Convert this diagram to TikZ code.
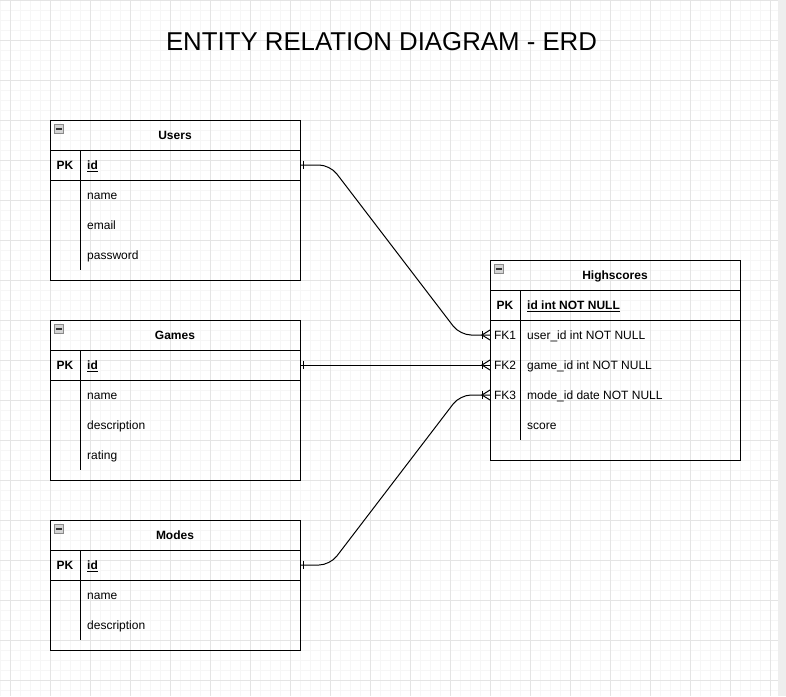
\documentclass[tikz,border=0pt]{standalone}
\usepackage{fontspec}
\setmainfont{Liberation Sans}
\usetikzlibrary{calc}
\definecolor{gmin}{HTML}{F6F6F6}
\definecolor{gmaj}{HTML}{E4E4E4}
\definecolor{strip}{HTML}{EEEEEE}
\definecolor{mbfill}{HTML}{D4D4D4}
\definecolor{mbdraw}{HTML}{8A8A8A}
\tikzset{
  gridminor/.style={draw=gmin, line width=1pt},
  gridmajor/.style={draw=gmaj, line width=1pt},
  tbl/.style={draw=black, line width=1pt, anchor=north west, inner sep=0pt},
  sepline/.style={draw=black, line width=1pt},
  fld/.style={anchor=base west, inner sep=0pt, font=\fontsize{12}{14}\selectfont},
  keyfld/.style={anchor=base west, inner sep=0pt, font=\fontsize{12}{14}\selectfont\bfseries},
  keycol/.style={anchor=base, inner sep=0pt, font=\fontsize{12}{14}\selectfont},
  pkcol/.style={anchor=base, inner sep=0pt, font=\fontsize{12}{14}\selectfont\bfseries},
  hdr/.style={anchor=base, inner sep=0pt, font=\fontsize{12}{14}\selectfont\bfseries},
  minusbox/.style={draw=mbdraw, fill=mbfill, line width=0.8pt, minimum size=9.5pt, inner sep=0pt,
    path picture={\draw[black!80, line width=1.3pt] ([xshift=2pt]path picture bounding box.west) -- ([xshift=-2pt]path picture bounding box.east);}},
  conn/.style={draw=black, line width=1pt, rounded corners=11pt},
  mk/.style={draw=black, line width=1pt},
}
\newcommand\eronemark[1]{\draw[mk] ($(#1)+(3.5,-4)$) -- ++(0,8);}
\newcommand\ermanymark[1]{\draw[mk] ($(#1)+(-8,-4)$) -- ++(0,8);
  \draw[mk] ($(#1)+(0,-5)$) -- ($(#1)+(-8,0)$) -- ($(#1)+(0,5)$);}
\begin{document}
\begin{tikzpicture}[x=1pt,y=-1pt]
\useasboundingbox (0,0) rectangle (786,696);
\fill[white] (0,0) rectangle (786,696);
% grid
\foreach \x in {0,10,...,770} \draw[gridminor] (\x,0) -- (\x,696);
\foreach \y in {10,20,...,690} \draw[gridminor] (0,\y) -- (778,\y);
\foreach \x in {10,50,...,770} \draw[gridmajor] (\x,0) -- (\x,696);
\foreach \y in {0,40,...,680} \draw[gridmajor] (0,\y) -- (778,\y);
\fill[strip] (778,0) rectangle (786,696);

% title
\node[inner sep=0pt, font=\fontsize{25.8}{30}\selectfont] (title) at (381.5,42) {ENTITY RELATION DIAGRAM - ERD};

% ===== Users =====
\node[tbl, minimum width=250pt, minimum height=160pt] (users) at (50,120) {};
\draw[sepline] (50,150) -- (300,150);
\draw[sepline] (50,180) -- (300,180);
\draw[sepline] (80,150) -- (80,270);
\node[minusbox] (users-min) at (59,129) {};
\node[hdr] (users-title) at (175,139.3) {Users};
\node[pkcol] (users-pk) at (65,169.3) {PK};
\node[keyfld] (users-idt) at (87,169.3) {\underline{id}};
\node[fld] (users-name) at (87,199.3) {name};
\node[fld] (users-email) at (87,229.3) {email};
\node[fld] (users-pw) at (87,259.3) {password};
\coordinate (users-id) at (300,165);

% ===== Games =====
\node[tbl, minimum width=250pt, minimum height=160pt] (games) at (50,320) {};
\draw[sepline] (50,350) -- (300,350);
\draw[sepline] (50,380) -- (300,380);
\draw[sepline] (80,350) -- (80,470);
\node[minusbox] (games-min) at (59,329) {};
\node[hdr] (games-title) at (175,339.3) {Games};
\node[pkcol] (games-pk) at (65,369.3) {PK};
\node[keyfld] (games-idt) at (87,369.3) {\underline{id}};
\node[fld] (games-name) at (87,399.3) {name};
\node[fld] (games-desc) at (87,429.3) {description};
\node[fld] (games-rating) at (87,459.3) {rating};
\coordinate (games-id) at (300,365);

% ===== Modes =====
\node[tbl, minimum width=250pt, minimum height=130pt] (modes) at (50,520) {};
\draw[sepline] (50,550) -- (300,550);
\draw[sepline] (50,580) -- (300,580);
\draw[sepline] (80,550) -- (80,640);
\node[minusbox] (modes-min) at (59,529) {};
\node[hdr] (modes-title) at (175,539.3) {Modes};
\node[pkcol] (modes-pk) at (65,569.3) {PK};
\node[keyfld] (modes-idt) at (87,569.3) {\underline{id}};
\node[fld] (modes-name) at (87,599.3) {name};
\node[fld] (modes-desc) at (87,629.3) {description};
\coordinate (modes-id) at (300,565);

% ===== Highscores =====
\node[tbl, minimum width=250pt, minimum height=200pt] (hs) at (490,260) {};
\draw[sepline] (490,290) -- (740,290);
\draw[sepline] (490,320) -- (740,320);
\draw[sepline] (520,290) -- (520,440);
\node[minusbox] (hs-min) at (499,269) {};
\node[hdr] (hs-title) at (615,279.3) {Highscores};
\node[pkcol] (hs-pk) at (505,309.3) {PK};
\node[keyfld] (hs-idt) at (527,309.3) {\underline{id int NOT NULL}};
\node[keycol] (hs-fk1l) at (505,339.3) {FK1};
\node[fld] (hs-fk1t) at (527,339.3) {user\_id int NOT NULL};
\node[keycol] (hs-fk2l) at (505,369.3) {FK2};
\node[fld] (hs-fk2t) at (527,369.3) {game\_id int NOT NULL};
\node[keycol] (hs-fk3l) at (505,399.3) {FK3};
\node[fld] (hs-fk3t) at (527,399.3) {mode\_id date NOT NULL};
\node[fld] (hs-score) at (527,429.3) {score};
\coordinate (hs-fk1) at (490,335);
\coordinate (hs-fk2) at (490,365);
\coordinate (hs-fk3) at (490,395);

% ===== connectors =====
\draw[conn] (users-id) -- ($(users-id)+(30,0)$) -- ($(hs-fk1)+(-30,0)$) -- (hs-fk1);
\draw[conn] (games-id) -- (hs-fk2);
\draw[conn] (modes-id) -- ($(modes-id)+(30,0)$) -- ($(hs-fk3)+(-30,0)$) -- (hs-fk3);
\eronemark{users-id}
\eronemark{games-id}
\eronemark{modes-id}
\ermanymark{hs-fk1}
\ermanymark{hs-fk2}
\ermanymark{hs-fk3}
\end{tikzpicture}
\end{document}
